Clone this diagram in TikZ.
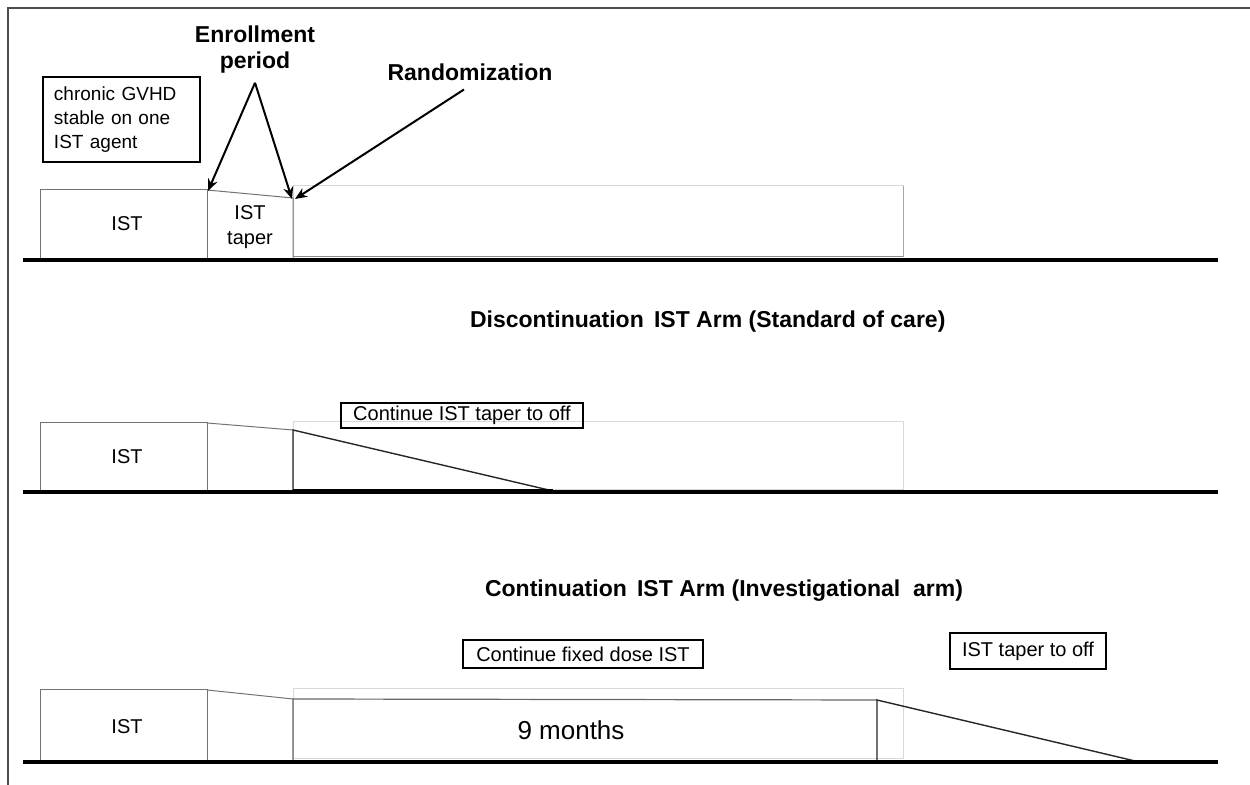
\documentclass[tikz,border=0pt]{standalone}
\usepackage{fontspec}
\setmainfont{Liberation Sans}
\usetikzlibrary{arrows.meta}
\begin{document}
\begin{tikzpicture}[x=0.5pt,y=-0.5pt,
  ground/.style={line width=2pt,line cap=butt},
  frameline/.style={draw=black!70,line width=0.75pt},
  istline/.style={draw=black!55,line width=0.5pt},
  faintline/.style={draw=black!15,line width=0.5pt},
  darkline/.style={draw=black!85,line width=0.7pt},
  reg/.style={font=\fontsize{10}{12.5}\selectfont},
  hdr/.style={font=\fontsize{11.5}{13}\selectfont\bfseries},
  tag/.style={draw,line width=0.6pt,inner sep=0pt,font=\fontsize{10}{12}\selectfont},
  arr/.style={-{Stealth[length=6pt,width=5pt]},line width=1pt}]
\useasboundingbox (0,0) rectangle (1250,785);
% frame
\draw[frameline] (8,785) -- (8,8) -- (1250,8);

% ---------- Row 1 ----------
\draw[faintline] (293,186) rectangle (903,257);
\draw[draw=black!35,line width=0.5pt] (903,186) -- (903,257);
\draw[istline] (40,258) -- (40,190) -- (207,190) -- (207,258);
\coordinate (r1a) at (207,190);
\coordinate (r1b) at (293,198);
\draw[istline] (r1a) -- (r1b) -- (293,258);
\draw[draw=black!45,line width=0.5pt] (293,257) -- (903,257);
\draw[ground] (23,260) -- (1218,260);
\node[reg] (ist1) at (127,224) {IST};
\node[reg,align=center] (taper1) at (250,227) {IST\\taper};
\node[tag,text width=67.5pt,inner xsep=5.5pt,align=left,minimum height=42.5pt,
      font=\fontsize{9.5}{12}\selectfont] (chronic) at (121.5,119.5)
      {chronic GVHD\\stable on one\\IST agent};
\node[hdr,align=center] (enroll) at (255,50) {Enrollment\\period};
\node[hdr] (rand) at (470,72) {Randomization};
\draw[arr] ([yshift=-1pt]enroll.south) -- ([xshift=0.5pt,yshift=-0.5pt]r1a);
\draw[arr] ([yshift=-1pt]enroll.south) -- ([xshift=-0.5pt,yshift=-0.5pt]r1b);
\draw[arr] ([xshift=-3pt,yshift=-1pt]rand.south) -- ([xshift=1pt,yshift=-0.5pt]r1b);

% ---------- Row 2 ----------
\node[hdr,anchor=west] (title2) at (463,322) {Discontinuation\, IST Arm (Standard of care)};
\draw[faintline] (293,422) rectangle (903,490);
\draw[istline] (40,490) -- (40,423) -- (207,423) -- (207,490);
\draw[istline] (207,423) -- (293,430);
\draw[darkline] (293,490) -- (293,430) -- (553,491);
\draw[ground] (23,492) -- (1218,492);
\draw[line width=1pt] (293,490) -- (553,490);
\node[reg] (ist2) at (127,457) {IST};
\node[tag,minimum width=121pt,minimum height=12.5pt] (cont1) at (462,415.5) {Continue IST taper to off};

% ---------- Row 3 ----------
\node[hdr,anchor=west] (title3) at (478,591) {Continuation\, IST Arm (Investigational\ \ arm)};
\draw[faintline] (293,689) rectangle (903,759);
\draw[istline] (40,760) -- (40,690) -- (207,690) -- (207,760);
\draw[istline] (207,690) -- (293,699);
\draw[draw=black!60,line width=0.6pt] (293,760) -- (293,699) -- (877,700);
\draw[darkline] (877,761) -- (877,700) -- (1135,761);
\draw[ground] (23,762) -- (1218,762);
\node[reg] (ist3) at (127,727) {IST};
\node[font=\fontsize{13}{15}\selectfont] (nine) at (571,730) {9 months};
\node[tag,minimum width=120pt,minimum height=14pt] (cont2) at (583,654) {Continue fixed dose IST};
\node[tag,minimum width=78pt,minimum height=18pt] (taper3) at (1028,651) {IST taper to off};
\end{tikzpicture}
\end{document}
